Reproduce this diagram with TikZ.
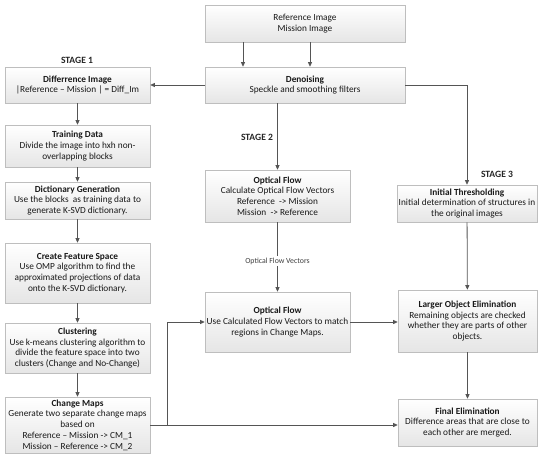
\documentclass[tikz,border=0pt]{standalone}
\usepackage{fontspec}
\setmainfont{Carlito}
\usetikzlibrary{arrows.meta,shadows}
\definecolor{linec}{RGB}{85,85,85}
\definecolor{boxline}{RGB}{190,190,190}
\tikzset{
  box/.style={draw=boxline, line width=0.6pt, top color=white, bottom color=black!10,
    align=center, inner sep=1pt, font=\fontsize{9.3}{10.8}\selectfont, text=black!90,
    drop shadow={opacity=0.18, shadow xshift=1.2pt, shadow yshift=-1.2pt}},
  conn/.style={draw=linec, line width=0.8pt, -{Triangle[length=4.5pt,width=4pt]}},
  stage/.style={font=\bfseries\fontsize{9.6}{11}\selectfont, text=black!85},
  lbl/.style={font=\fontsize{7.8}{9}\selectfont, fill=white, inner sep=1.5pt, text=black!75}
}
\begin{document}
\begin{tikzpicture}[x=1pt, y=-1pt]
\useasboundingbox (0,0) rectangle (550,463);
% left column
\node[box, minimum width=200pt, minimum height=37pt] (top) at (305,23.5) {Reference Image\\Mission Image};
\node[box, minimum width=200pt, minimum height=36pt] (den) at (305,85) {\textbf{Denoising}\\Speckle and smoothing filters};
\node[box, minimum width=145pt, minimum height=36pt] (diff) at (77.5,85) {\textbf{Differrence Image}\\|Reference – Mission | = Diff\_Im};
\node[box, minimum width=145pt, minimum height=42pt] (train) at (77.5,146) {\textbf{Training Data}\\Divide the image into hxh non-\\overlapping blocks};
\node[box, minimum width=145pt, minimum height=37pt] (dict) at (77.5,200.5) {\textbf{Dictionary Generation}\\Use the blocks\ \ as training data to\\generate K-SVD dictionary.};
\node[box, minimum width=145pt, minimum height=60pt] (feat) at (77.5,273) {\textbf{Create Feature Space}\\Use OMP algorithm to find the\\approximated projections of data\\onto the K-SVD dictionary.};
\node[box, minimum width=145pt, minimum height=50pt] (clus) at (77.5,348) {\textbf{Clustering}\\Use k-means clustering algorithm to\\divide the feature space into two\\clusters (Change and No-Change)};
\node[box, minimum width=145pt, minimum height=56pt] (cmap) at (77.5,425) {\textbf{Change Maps}\\Generate two separate change maps\\based on\\Reference – Mission -> CM\_1\\Mission – Reference -> CM\_2};
% middle column
\node[box, minimum width=145pt, minimum height=52pt] (of1) at (277.5,196) {\textbf{Optical Flow}\\Calculate Optical Flow Vectors\\Reference\ \ -> Mission\\Mission\ \ -> Reference};
\node[box, minimum width=145pt, minimum height=60pt] (of2) at (277.5,322) {\textbf{Optical Flow}\\Use Calculated Flow Vectors to match\\regions in Change Maps.};
% right column
\node[box, minimum width=140pt, minimum height=37pt] (it) at (467,203.5) {\textbf{Initial Thresholding}\\Initial determination of structures in\\the original images};
\node[box, minimum width=139pt, minimum height=62pt] (loe) at (467.5,321) {\textbf{Larger Object Elimination}\\Remaining objects are checked\\whether they are parts of other\\objects.};
\node[box, minimum width=139pt, minimum height=47pt] (fe) at (467.5,422.5) {\textbf{Final Elimination}\\Difference areas that are close to\\each other are merged.};
% stage labels
\node[stage] (s1) at (77,60) {STAGE 1};
\node[stage] (s2) at (257,137) {STAGE 2};
\node[stage] (s3) at (497,174) {STAGE 3};
% connectors
\draw[conn] (top.south -| 243,0) -- (den.north -| 243,0);
\draw[conn] (top.south -| 310,0) -- (den.north -| 310,0);
\draw[conn] (den.west) -- (diff.east);
\draw[conn] (den.south -| of1.north) -- (of1.north);
\draw[conn] (den.east) -| (it.north);
\draw[conn] (diff) -- (train);
\draw[conn] (train) -- (dict);
\draw[conn] (dict) -- (feat);
\draw[conn] (feat) -- (clus);
\draw[conn] (clus) -- (cmap);
\draw[conn] (of1) -- node[lbl, pos=0.56] (ofv) {Optical Flow Vectors} (of2);
\coordinate (j) at (167,425);
\draw[conn] (cmap.east |- j) -- (fe.west |- j);
\draw[conn] (j) |- (of2.west);
\draw[conn] (of2.east) -- (loe.west |- of2.east);
\draw[conn] (it) -- (loe);
\draw[conn] (loe) -- (fe);
\end{tikzpicture}
\end{document}
